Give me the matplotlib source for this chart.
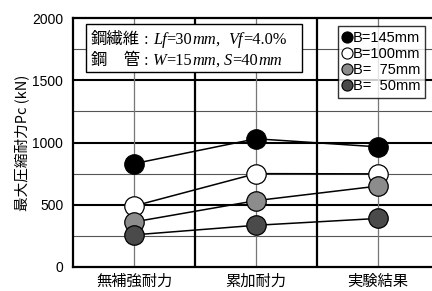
import matplotlib
matplotlib.use("Agg")
import matplotlib.pyplot as plt
from matplotlib.lines import Line2D
from matplotlib.patches import Rectangle
from matplotlib.transforms import IdentityTransform

plt.rcParams['font.family'] = ['Liberation Sans', 'Noto Sans CJK JP', 'DejaVu Sans']

categories = ['無補強耐力', '累加耐力', '実験結果']
series_labels = ['B=145mm', 'B=100mm', 'B=  75mm', 'B=  50mm']
series_values = {
    'B=145mm': [830, 1030, 965],
    'B=100mm': [490, 750, 748],
    'B=  75mm': [362, 533, 650],
    'B=  50mm': [258, 335, 390],
}
series_colors = ['#000000', '#ffffff', '#8c8c8c', '#4a4a4a']
yticks = [0, 500, 1000, 1500, 2000]
note_lines = [
    [('鋼繊維', 'cjk'), (' : ', 'rm'), ('Lf', 'it'), ('=30', 'rm'), ('mm', 'it'),
     (',  ', 'rm'), ('Vf', 'it'), ('=4.0%', 'rm')],
    [('鋼　管', 'cjk'), (' : ', 'rm'), ('W', 'it'), ('=15', 'rm'), ('mm', 'it'),
     (', ', 'rm'), ('S', 'it'), ('=40', 'rm'), ('mm', 'it')],
]

W, H = 432, 291
fig = plt.figure(figsize=(W/100, H/100), dpi=100)
ax = fig.add_axes([73/W, 1-267/H, 366/W, 249/H])
ax.set_xlim(0, 3)
ax.set_ylim(0, 2000)

# grid
for y in [250, 750, 1250, 1750]:
    ax.axhline(y, color='#555555', lw=0.8, zorder=1)
for y in [500, 1000, 1500]:
    ax.axhline(y, color='black', lw=1.5, zorder=1)
xs = [i + 0.5 for i in range(len(categories))]
for x in xs:
    ax.axvline(x, color='#777777', lw=0.9, zorder=1)
for x in [1, 2]:
    ax.axvline(x, color='black', lw=1.6, zorder=1)

for lab, col in zip(series_labels, series_colors):
    ax.plot(xs, series_values[lab], color='black', lw=1.1, marker='o', ms=14,
            mfc=col, mec='black', mew=0.9, zorder=3)

ax.set_yticks(yticks)
ax.set_yticklabels([str(v) for v in yticks], fontsize=10)
ax.set_xticks(xs)
ax.set_xticklabels(categories, fontsize=11, family=['Noto Sans CJK JP'])
ax.tick_params(length=0, pad=7)
ax.tick_params(axis='x', pad=4)
for s in ax.spines.values():
    s.set_linewidth(1.6)

ax.set_ylabel('最大圧縮耐力Pc (kN)', fontsize=10.5, family=['Noto Sans CJK JP'], labelpad=2)

# note box
ax.add_patch(Rectangle((0.0355, 0.783), 0.5905, 0.193, transform=ax.transAxes,
                       fc='white', ec='black', lw=1.0, zorder=5))
renderer = fig.canvas.get_renderer()
styles = {
    'cjk': dict(family=['Noto Sans CJK JP']),
    'rm': dict(family=['Liberation Serif']),
    'it': dict(family=['Liberation Serif'], style='italic'),
}
baselines = [H - 44, H - 65]
for line, yb in zip(note_lines, baselines):
    xcur = 91
    for piece, st in line:
        t = fig.text(xcur, yb, piece, transform=IdentityTransform(), ha='left', va='baseline',
                     fontsize=11.8, zorder=6, **styles[st])
        xcur += t.get_window_extent(renderer).width

handles = [Line2D([], [], ls='none', marker='o', ms=8, mfc=c, mec='black', mew=0.8)
           for c in series_colors]
leg = ax.legend(handles, series_labels, loc='upper right', bbox_to_anchor=(0.962, 0.966),
                frameon=True, fancybox=False, edgecolor='black',
                handlelength=0.6, handletextpad=0.15, borderpad=0.3, labelspacing=0.15,
                borderaxespad=0, prop={'family': ['Liberation Sans'], 'size': 10.5})
leg.get_frame().set_linewidth(1.0)
leg.set_zorder(6)

fig.savefig('out.png', dpi=100)
